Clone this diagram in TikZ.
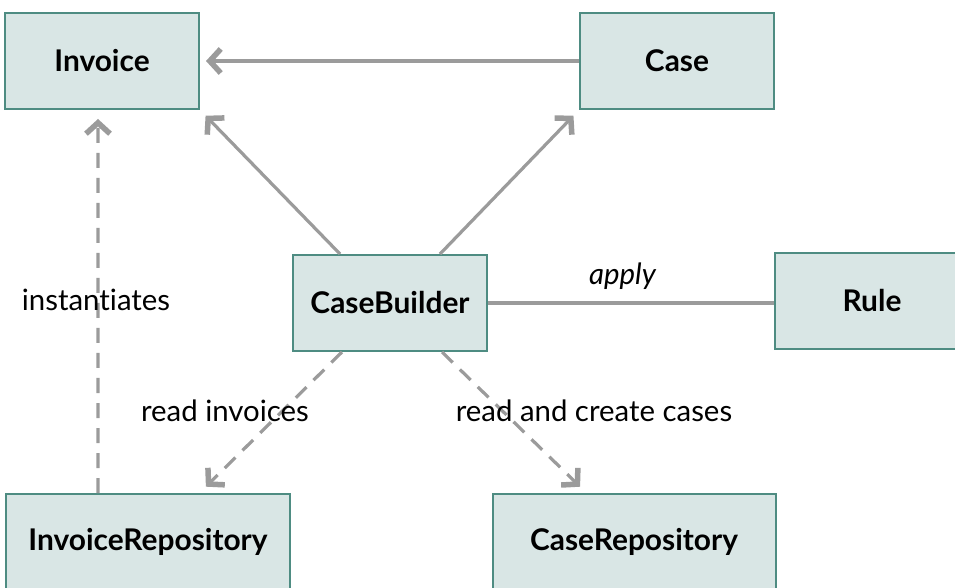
\documentclass[tikz,border=0pt]{standalone}
\usepackage{fontspec}
\setmainfont[Ligatures={NoCommon}]{Lato}
\usetikzlibrary{arrows.meta}
\definecolor{boxFill}{HTML}{D9E6E5}
\definecolor{boxLine}{HTML}{4E8C82}
\definecolor{arrowGray}{HTML}{9B9B9B}
\tikzset{
  cls/.style={draw=boxLine, fill=boxFill, line width=2bp, minimum width=194bp, minimum height=96bp, inner sep=0pt, font=\bfseries\fontsize{30}{34}\selectfont},
  repo/.style={cls, minimum width=283bp},
  link/.style={draw=arrowGray, line width=3.2bp},
  uses/.style={link, -{Straight Barb[sharp, length=11bp, width=24bp, line width=5.5bp]}},
  dep/.style={uses, dash pattern=on 15bp off 10bp},
  lbl/.style={font=\fontsize{29.5}{34}\selectfont, inner sep=0pt}
}

\begin{document}
\begin{tikzpicture}[x=1bp, y=1bp]
	\useasboundingbox (0,0) rectangle (955,-588);
	\clip (0,0) rectangle (955,-588);
	% classes
	\node[cls] (inv) at (102,-61) {Invoice};
	\node[cls] (cse) at (677,-61) {Case};
	\node[cls] (cb) at (390,-303) {CaseBuilder};
	\node[cls] (rule) at (872,-301) {Rule};
	\node[repo] (irepo) at (148,-542) {InvoiceRepository};
	\node[repo] (crepo) at (634,-542) {CaseRepository};
	% associations
	\draw[uses, shorten >=6bp] (cse.west) -- (inv.east);
	\draw[uses, shorten >=8bp] ([xshift=-50bp]cb.north) -- (inv.south east);
	\draw[uses, shorten >=8bp] ([xshift=50bp]cb.north) -- (cse.south west);
	\draw[link] (cb.east) -- node[lbl, above=12bp, pos=0.47, font=\itshape\fontsize{29.5}{34}\selectfont] (applyLbl) {apply} (rule.west |- cb.east);
	% dependencies
	\draw[dep, shorten >=9bp] ([xshift=-50bp]irepo.north) -- ([xshift=-4bp]inv.south);
	\draw[dep, shorten >=9bp] ([xshift=-48bp]cb.south) -- ([xshift=-91bp]irepo.north east);
	\draw[dep, shorten >=9bp] ([xshift=52bp]cb.south) -- ([xshift=95bp]crepo.north west);
	\node[lbl] (instLbl) at (96,-300) {instantiates};
	\node[lbl] (readInvLbl) at (225,-411) {read invoices};
	\node[lbl] (readCaseLbl) at (594,-411) {read and create cases};
\end{tikzpicture}
\end{document}
